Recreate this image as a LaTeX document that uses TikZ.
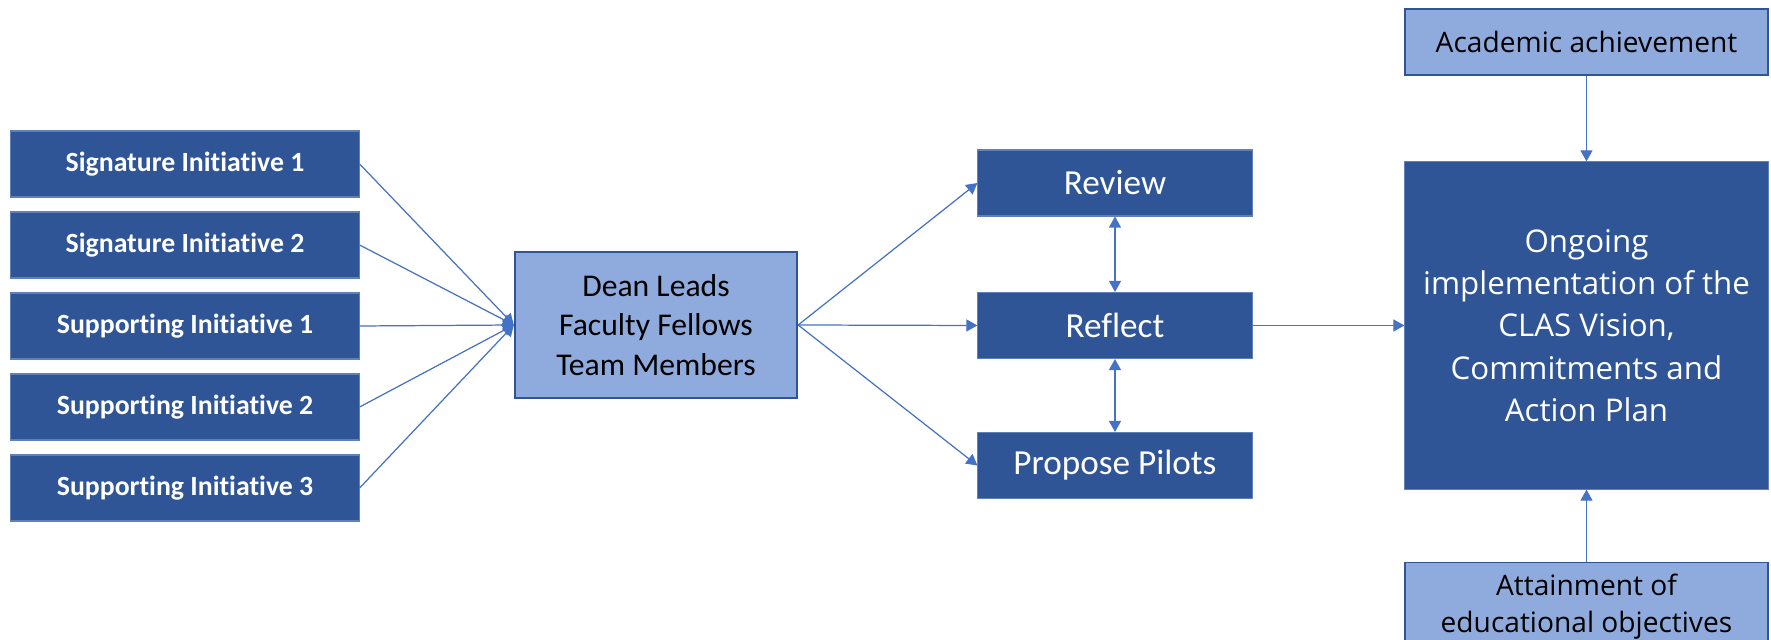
\documentclass[tikz,border=0pt]{standalone}
\usepackage{fontspec}
\setmainfont{Carlito}[Ligatures=NoCommon]
\newfontfamily\segoe{Open Sans}
\usepackage{xcolor}
\usepackage{tikz}
\usetikzlibrary{arrows.meta}

\definecolor{navybox}{HTML}{2F5597}
\definecolor{paleblue}{HTML}{8FAADC}
\definecolor{linkblue}{HTML}{4472C4}

\tikzset{
	initbox/.style={fill=navybox, draw=paleblue!50!navybox, line width=0.3pt, text=white, minimum width=3.48cm, minimum height=0.66cm, font=\fontsize{7.9}{9.5}\selectfont\bfseries},
	stagebox/.style={fill=navybox, draw=paleblue!50!navybox, line width=0.3pt, text=white, minimum width=2.74cm, minimum height=0.66cm, font=\fontsize{10}{12}\selectfont},
	lightbox/.style={fill=paleblue, draw=navybox, line width=0.4pt, align=center},
	link/.style={draw=linkblue, line width=0.35pt, -{Triangle[length=1.1mm,width=1.2mm]}},
	twoway/.style={draw=linkblue, line width=0.35pt, {Triangle[length=1.1mm,width=1.2mm]}-{Triangle[length=1.1mm,width=1.2mm]}}
}

\begin{document}
\begin{tikzpicture}[x=0.01cm, y=-0.01cm]

\useasboundingbox (0,0) rectangle (1771,640);
\clip (0,0) rectangle (1771,640);

\node[lightbox, line width=0.6pt, minimum width=2.82cm, minimum height=1.46cm, font=\fontsize{9}{11.2}\selectfont] (dean) at (656,325) {Dean Leads\\Faculty Fellows\\Team Members};

\foreach \name/\label [count=\i] in {sig1/Signature Initiative 1, sig2/Signature Initiative 2, sup1/Supporting Initiative 1, sup2/Supporting Initiative 2, sup3/Supporting Initiative 3}{
	\node[initbox] (\name) at (185,{164+81*(\i-1)}) {\label};
	\draw[link] (\name.east) -- (dean.west);
}

\node[stagebox] (review) at (1115,183) {Review};
\node[stagebox] (reflect) at (1115,325.5) {Reflect};
\node[stagebox] (propose) at (1115,465.5) {Propose Pilots};

\node[stagebox, minimum width=3.63cm, minimum height=3.27cm, align=center, font=\segoe\fontsize{8.9}{12}\selectfont] (vision) at (1586.5,325.5) {Ongoing\\implementation of the\\CLAS Vision,\\Commitments and\\Action Plan};
\node[lightbox, minimum width=3.63cm, minimum height=0.66cm, font=\segoe\fontsize{8}{10.5}\selectfont] (academic) at (1586.5,42) {Academic achievement};
\node[lightbox, minimum width=3.63cm, minimum height=0.8cm, font=\segoe\fontsize{8}{10.5}\selectfont] (attain) at (1586.5,607) {Attainment of\\educational objectives};

\draw[link] (dean.east) -- (review.west);
\draw[link] (dean.east) -- (reflect.west);
\draw[link] (dean.east) -- (propose.west);
\draw[twoway] (review.south) -- (reflect.north);
\draw[twoway] (reflect.south) -- (propose.north);
\draw[link] (reflect.east) -- (vision.west);
\draw[link] (academic.south) -- (vision.north);
\draw[link] (attain.north) -- (vision.south);

\end{tikzpicture}
\end{document}
